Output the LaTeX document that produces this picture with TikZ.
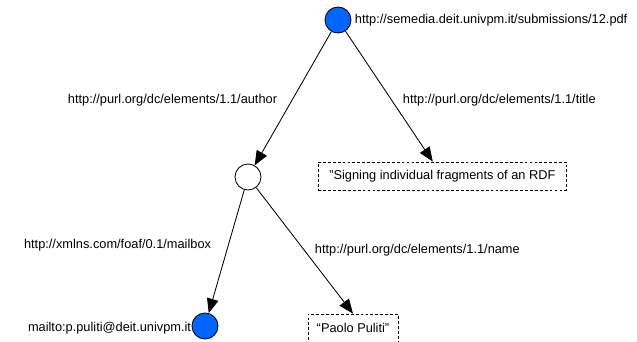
\documentclass[tikz,border=0pt]{standalone}
\usepackage{fontspec}
\setmainfont{Liberation Sans}
\usetikzlibrary{arrows.meta}
\definecolor{resblue}{RGB}{0,102,255}

\begin{document}
\begin{tikzpicture}[>={Triangle[length=3.6mm,width=2.9mm]},
  every node/.style={font=\fontsize{9.1}{11}\selectfont},
  res/.style={circle,draw,line width=0.6pt,fill=resblue,minimum size=6.5mm,inner sep=0pt},
  blank/.style={circle,draw,line width=0.6pt,fill=white,minimum size=6.5mm,inner sep=0pt},
  lit/.style={draw,dashed,dash pattern=on 2pt off 1.5pt,line width=0.6pt,minimum height=7mm,inner xsep=2.5pt},
  prop/.style={line width=0.6pt,->}]
\useasboundingbox (0,0) rectangle (15.925,8.55);

%resources and literals
\node[res]   (sub)   at (8.45,8.05) {};
\node[blank] (auth)  at (6.2,4.125) {};
\node[res]   (mbox)  at (5.125,0.4) {};
\node[lit,minimum width=6.2cm]  (title) at (11.06,4.15) {"Signing individual fragments of an RDF};
\node[lit,minimum width=2.25cm] (name)  at (8.825,0.35) {“Paolo Puliti”};

%arcs
\draw[prop] (sub)  -- (auth);      %sub--auth
\draw[prop] (sub)  -- (title);     %sub--title
\draw[prop] (auth) -- (mbox);      %auth--mbox
\draw[prop] (auth) -- (name.north);%auth--name

%labels
\node[anchor=west] (subl)   at (8.75,8.05)  {http://semedia.deit.univpm.it/submissions/12.pdf};
\node[anchor=east] (authl)  at (7.05,6.05)  {http://purl.org/dc/elements/1.1/author};
\node[anchor=west] (titlel) at (9.95,6.05)  {http://purl.org/dc/elements/1.1/title};
\node[anchor=east] (mboxl)  at (5.4,2.425)  {http://xmlns.com/foaf/0.1/mailbox};
\node[anchor=west] (namel)  at (7.75,2.3)   {http://purl.org/dc/elements/1.1/name};
\node[anchor=east] (mboxv)  at (4.9,0.35)   {mailto:p.puliti@deit.univpm.it};

\end{tikzpicture}
\end{document}
